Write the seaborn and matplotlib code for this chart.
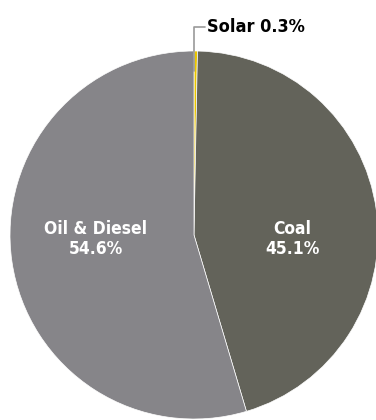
import numpy as np
import seaborn as sns
import matplotlib.pyplot as plt

# share of generation by source
sources = ["Solar", "Coal", "Oil & Diesel"]
shares = [0.3, 45.1, 54.6]
colors = ["#e8c400", "#63635a", "#868589"]

sns.set_style("white")
plt.rcParams['font.family'] = ['DejaVu Sans']

fig = plt.figure(figsize=(3.76, 4.2), dpi=100)
ax = fig.add_axes([0, 0, 1, 1])
ax.set_xlim(0, 376)
ax.set_ylim(0, 420)
ax.set_aspect("equal")

cx, cy, r = 194, 185, 184
wedges, _ = ax.pie(shares, colors=colors, startangle=90, counterclock=False,
                   center=(cx, cy), radius=r, frame=True,
                   wedgeprops=dict(edgecolor="white", linewidth=0.5))
ax.axis("off")

# labels inside the two big slices, on one line across the middle
for w, name, val in zip(wedges[1:], sources[1:], shares[1:]):
    ang = np.deg2rad((w.theta1 + w.theta2) / 2)
    x = cx + 0.54 * r * np.cos(ang)
    ax.text(x, cy - 4, f"{name}\n{val}%", color="white", fontsize=12.5, fontweight="bold",
            fontstretch="condensed", ha="center", va="center", linespacing=1.1)

# leader line for the tiny solar slice
w = wedges[0]
ang = np.deg2rad((w.theta1 + w.theta2) / 2)
px = cx + 0.89 * r * np.cos(ang)
py = cy + 0.89 * r * np.sin(ang)
ax.plot([px - 1.5, px - 1.5, px + 9], [py, 393, 393], color="#999999", lw=1.2)
ax.text(px + 11, 393, f"{sources[0]} {shares[0]}%", fontsize=13, fontweight="bold",
        fontstretch="condensed", ha="left", va="center", color="black")

plt.savefig("out.png", dpi=100)
